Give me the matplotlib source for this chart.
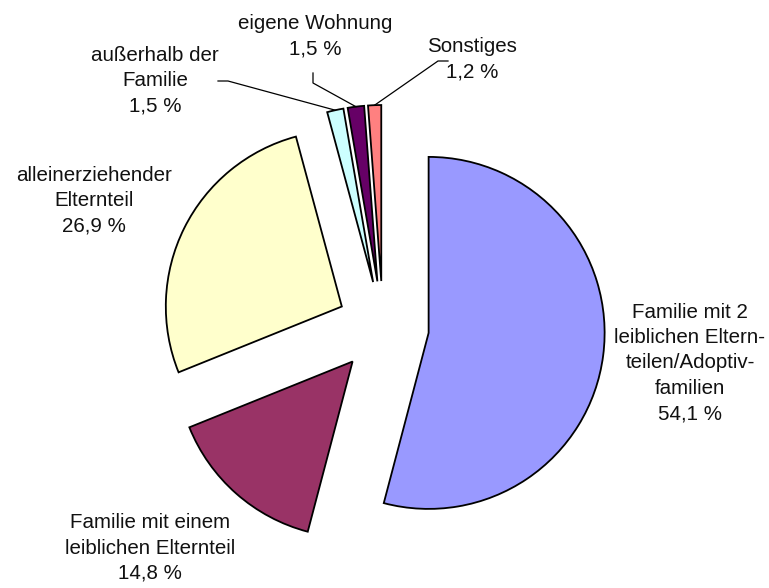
import matplotlib.pyplot as plt
import numpy as np

plt.rcParams['font.family'] = ['Liberation Sans', 'DejaVu Sans']

# Anteile in Prozent
labels = ['Familie mit 2\nleiblichen Eltern-\nteilen/Adoptiv-\nfamilien',
          'Familie mit einem\nleiblichen Elternteil',
          'alleinerziehender\nElternteil',
          'außerhalb der\nFamilie',
          'eigene Wohnung',
          'Sonstiges']
values = [54.1, 14.8, 26.9, 1.5, 1.5, 1.2]
colors = ['#9999FF', '#993366', '#FFFFCC', '#CCFFFF', '#660066', '#FF8080']

W, H = 769, 588
fig = plt.figure(figsize=(W / 100, H / 100), dpi=100)
ax = fig.add_axes([0, 0, 1, 1])

center = (383, H - 327)
radius = 176
expl = 46

wedges, _ = ax.pie(values, colors=colors, startangle=90, counterclock=False,
                   center=center, radius=radius, explode=[expl] * len(values),
                   wedgeprops=dict(edgecolor='black', linewidth=1.3))

ax.set_xlim(0, W)
ax.set_ylim(0, H)
ax.set_aspect('equal')
ax.axis('off')

# Beschriftungspositionen (Pixel, von oben gemessen)
label_pos = [(690, 363), (150, 548), (94, 201), (155, 81), (315, 36.5), (472, 59)]
for lab, val, (x, y) in zip(labels, values, label_pos):
    txt = lab + '\n' + f'{val:.1f} %'.replace('.', ',')
    ax.text(x, H - y, txt, ha='center', va='center', fontsize=14.8,
            linespacing=1.42, color='#111111')

# Fuehrungslinien fuer die kleinen Segmente
leader_start = {3: [(218, 81), (228, 81)],
                4: [(313, 73), (313, 83)],
                5: [(448, 61), (438, 61)]}
for i, pts in leader_start.items():
    w = wedges[i]
    mid = np.deg2rad((w.theta1 + w.theta2) / 2)
    cx, cy = w.center
    ex = cx + w.r * np.cos(mid)
    ey = cy + w.r * np.sin(mid)
    xs = [p[0] for p in pts] + [ex]
    ys = [H - p[1] for p in pts] + [ey]
    ax.plot(xs, ys, color='black', linewidth=0.9)

fig.savefig('out.png', dpi=100)
